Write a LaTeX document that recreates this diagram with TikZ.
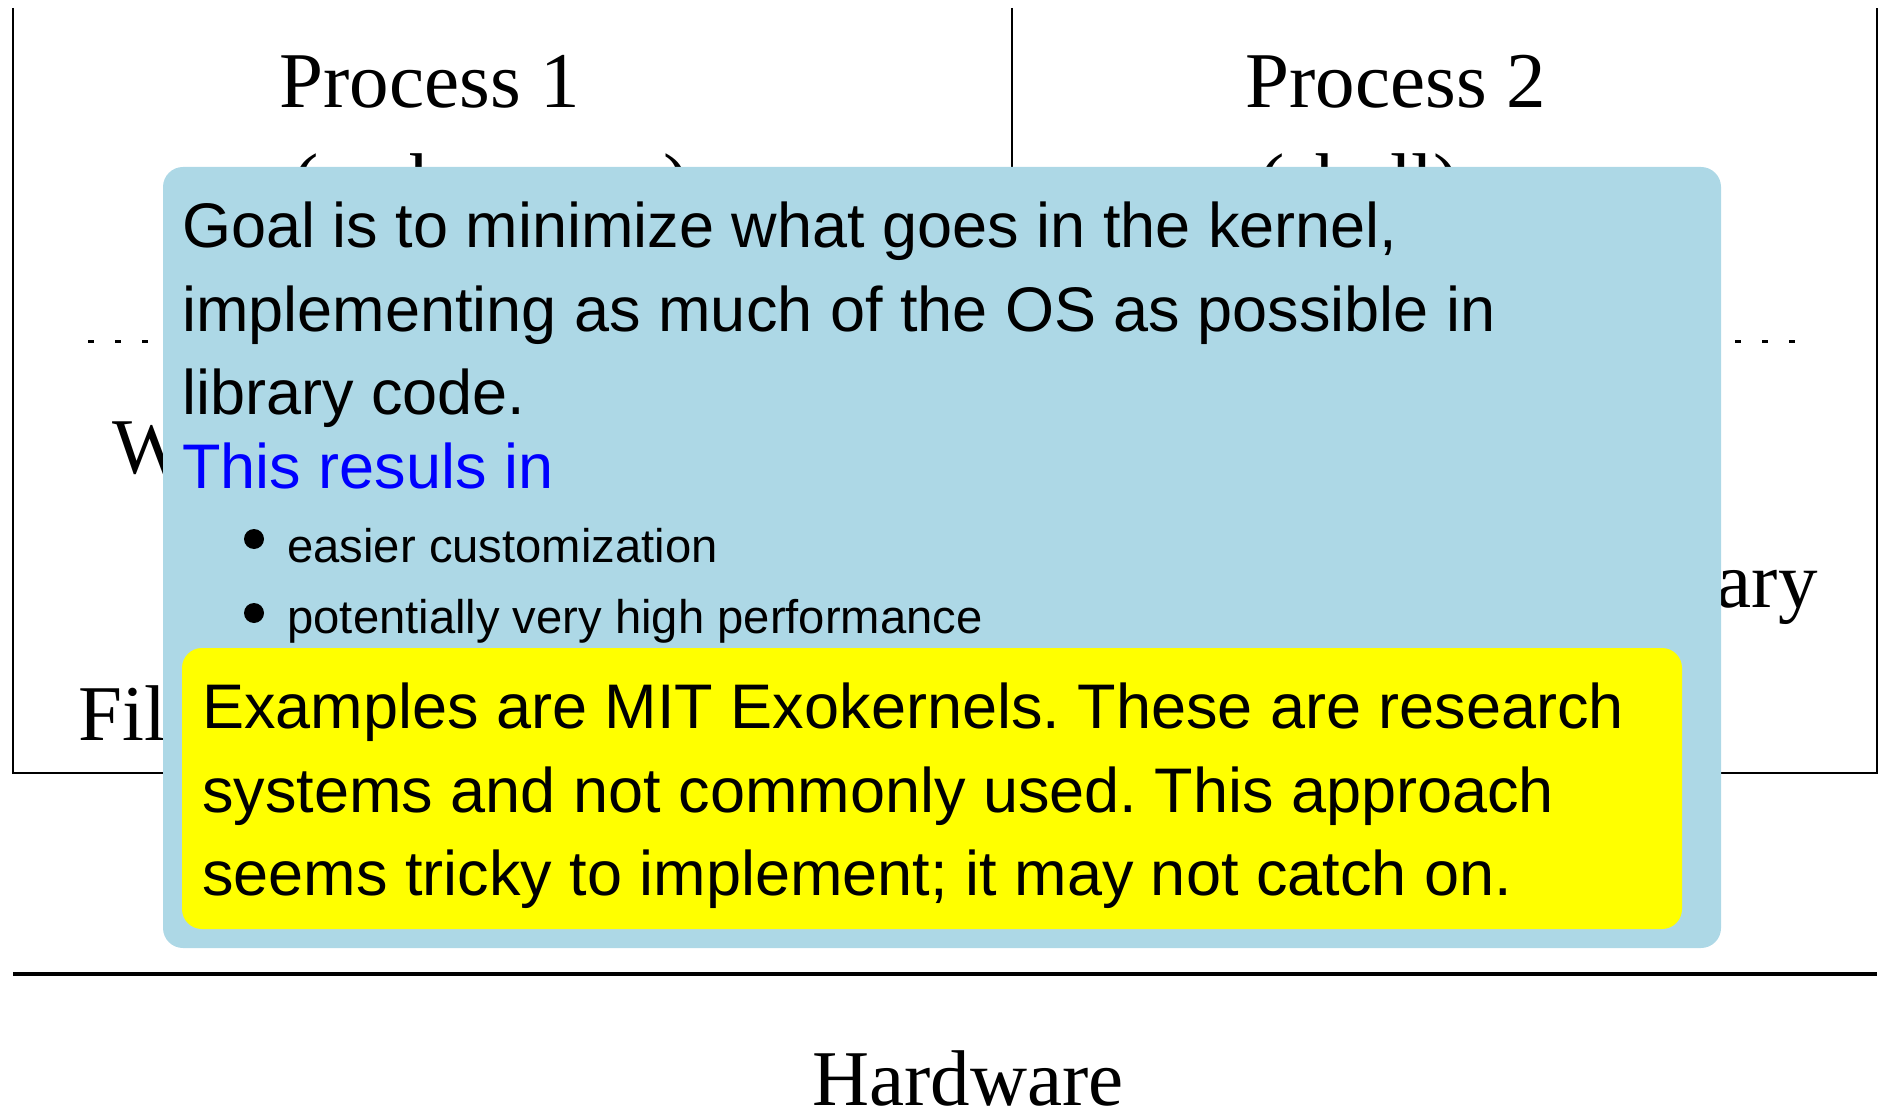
\documentclass[tikz,border=0pt]{standalone}
\usepackage{fontspec}
\setmainfont{Liberation Serif}
\newfontfamily\notefont{Liberation Sans}
\definecolor{boxblue}{HTML}{ADD8E6}
\definecolor{noteyellow}{HTML}{FFFF00}
\definecolor{linkblue}{HTML}{0000FF}
\frenchspacing
\begin{document}
\begin{tikzpicture}[x=0.5pt,y=-0.5pt,
  framestyle/.style={line width=1.4pt,black},
  seriftext/.style={font=\fontsize{39.5}{47}\selectfont,inner sep=0pt,anchor=base west},
  notetext/.style={font=\notefont\fontsize{31.5}{38}\selectfont,inner sep=0pt,anchor=base west},
  bullettext/.style={font=\notefont\fontsize{23.6}{28}\selectfont,inner sep=0pt,anchor=base west},
  bulletdot/.style={circle,fill=black,inner sep=0pt,minimum size=10pt},
  bluebox/.style={fill=boxblue,draw=none,rounded corners=10pt},
  yellowbox/.style={fill=noteyellow,draw=none,rounded corners=10pt}]
\useasboundingbox (0,0) rectangle (1883,1117);
% frame corners
\coordinate (tl) at (13,8);
\coordinate (bl) at (13,773);
\coordinate (br) at (1877,773);
\coordinate (tr) at (1877,8);
\coordinate (mt) at (1012,8);
\coordinate (mb) at (1012,342);
\coordinate (dl) at (88,342);
\coordinate (dr) at (1814,342);
\coordinate (hl) at (13,974);
\coordinate (hr) at (1877,974);
\draw[framestyle] (tl) -- (bl) -- (br) -- (tr);
\draw[framestyle] (mt) -- (mb);
\draw[line width=1.5pt,dash pattern=on 3.2pt off 10.3pt] (dl) -- (dr);
\draw[line width=2pt] (hl) -- (hr);
% diagram texts
\node[seriftext] (p1) at (279,108) {Process 1};
\node[seriftext] (p2) at (1245,108) {Process 2};
\node[seriftext] (p1s) at (292,209) {(web server)};
\node[seriftext] (p2s) at (1258,209) {(shell)};
\node[seriftext] (lw) at (112,473) {Web};
\node[seriftext] (lf) at (78,740) {File};
\node[seriftext,anchor=base east] (rl) at (1818,607) {library};
\node[seriftext] (hw) at (812,1105) {Hardware};
% overlay note
\coordinate (bbtl) at (163,167);
\coordinate (bbbr) at (1721,948);
\fill[bluebox] (bbtl) rectangle (bbbr);
\coordinate (ybtl) at (182,648);
\coordinate (ybbr) at (1682,929);
\fill[yellowbox] (ybtl) rectangle (ybbr);
\node[notetext] (g1) at (182,248) {Goal is to minimize what goes in the kernel,};
\node[notetext] (g2) at (182,332) {implementing as much of the OS as possible in};
\node[notetext] (g3) at (182,415) {library code.};
\node[notetext,text=linkblue] (tr1) at (182,488) {This resuls in};
\node[bulletdot] (b1) at (254,539) {};
\node[bullettext] (bt1) at (287,562) {easier customization};
\node[bulletdot] (b2) at (254,613) {};
\node[bullettext] (bt2) at (287,633) {potentially very high performance};
\node[notetext] (e1) at (202,728) {Examples are MIT Exokernels. These are research};
\node[notetext] (e2) at (202,812) {systems and not commonly used. This approach};
\node[notetext] (e3) at (202,895) {seems tricky to implement; it may not catch on.};
\end{tikzpicture}
\end{document}
